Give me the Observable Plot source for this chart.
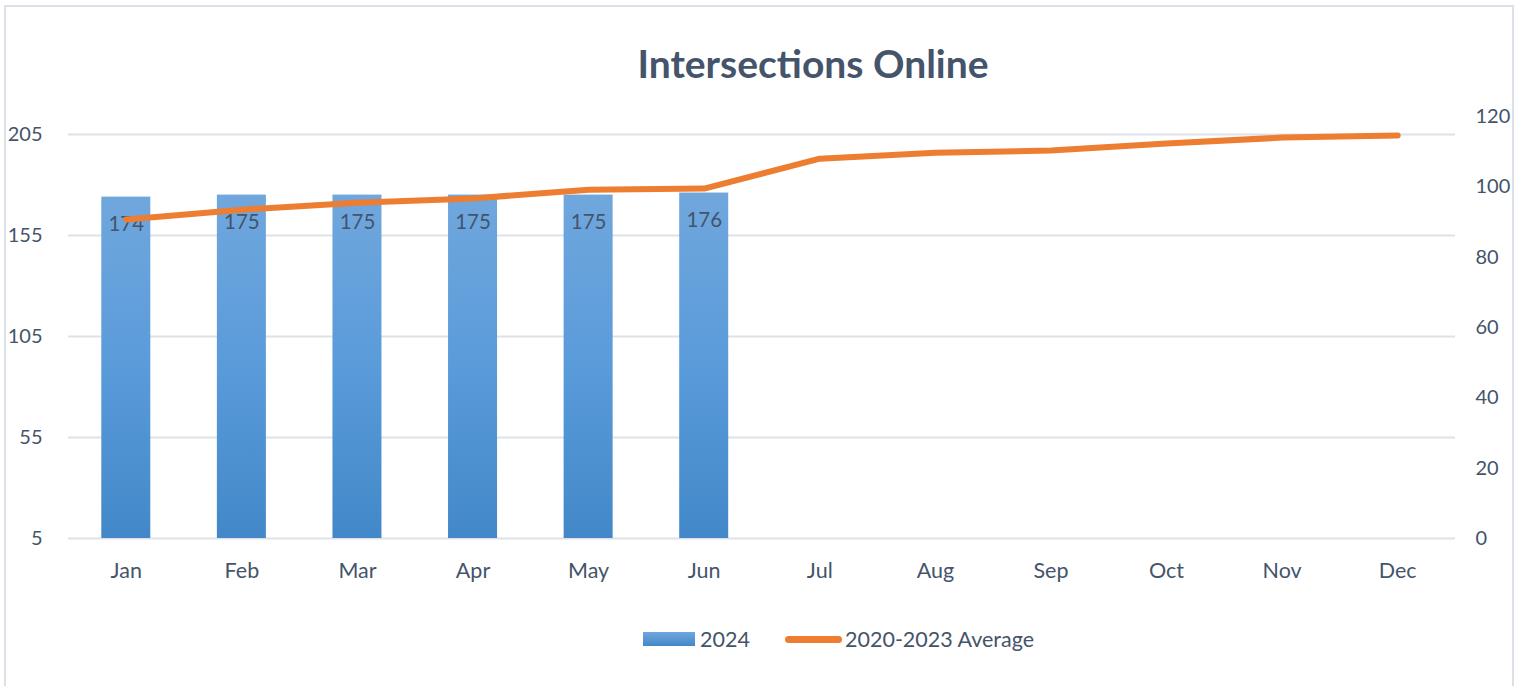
<!DOCTYPE html>
<html>
<head>
<meta charset="utf-8">
<script src="https://cdn.jsdelivr.net/npm/d3@7"></script>
<script src="https://cdn.jsdelivr.net/npm/@observablehq/plot@0.6"></script>
<style>
  html, body { margin: 0; padding: 0; background: #fff; }
  #wrap { position: relative; width: 1528px; height: 686px; overflow: hidden; font-family: Lato, "Open Sans", sans-serif; color: #44546A; }
  #frame { position: absolute; left: 4px; top: 5px; width: 1510px; height: 700px; border: 2px solid #DCE0E8; box-sizing: border-box; }
  #title { position: absolute; left: 98px; width: 1430px; top: 40px; text-align: center; font-size: 39px; font-weight: bold; color: #44546A; }
  #chart { position: absolute; left: 0; top: 100px; }
  #legend { position: absolute; top: 624px; left: 0; width: 1528px; height: 30px; font-size: 21.5px; color: #44546A; }
  .lg { position: absolute; top: 0; display: flex; align-items: center; height: 30px; }
</style>
</head>
<body>
<div id="wrap">
  <div id="frame"></div>
  <div id="title">Intersections Online</div>
  <div id="chart"></div>
  <div id="legend">
    <div class="lg" style="left:643px"><span style="display:inline-block;width:52px;height:14px;background:linear-gradient(#70A7DD,#4288C8);margin-right:5px"></span>2024</div>
    <div class="lg" style="left:785px"><span style="display:inline-block;width:57px;height:7px;border-radius:4px;background:#ED7D31;margin-right:3px"></span>2020-2023 Average</div>
  </div>
</div>
<script>
const months = ["Jan","Feb","Mar","Apr","May","Jun","Jul","Aug","Sep","Oct","Nov","Dec"];
const barMonths = ["Jan","Feb","Mar","Apr","May","Jun"];
const values2024 = [174, 175, 175, 175, 175, 176];
const average2020_2023 = [90.7, 93.5, 95.5, 96.7, 99.2, 99.5, 108.0, 109.7, 110.3, 112.3, 114.0, 114.6];
const leftTicks = [5, 55, 105, 155, 205];
const rightTicks = [0, 20, 40, 60, 80, 100, 120];

const leftMin = 5, leftMax = 213.9, rightMax = 120;
const toLeft = v => leftMin + v * (leftMax - leftMin) / rightMax;

const bars = barMonths.map((m, i) => ({month: m, value: values2024[i]}));
const avg = months.map((m, i) => ({month: m, value: average2020_2023[i]}));

const textColor = "#44546A";
const fsMonth = 21.5, fsNum = 20;

const plot = Plot.plot({
  width: 1528,
  height: 500,
  marginTop: 16,
  marginBottom: 62,
  marginLeft: 68,
  marginRight: 73,
  style: {fontFamily: "Lato, 'Open Sans', sans-serif", fontSize: fsNum + "px", color: textColor, background: "transparent", overflow: "visible"},
  x: {type: "band", domain: months, paddingInner: 0.576, paddingOuter: 0.288, round: false, label: null},
  y: {domain: [leftMin, leftMax], label: null},
  marks: [
    Plot.ruleY(leftTicks, {stroke: "#DDE1E8", strokeWidth: 2}),
    Plot.barY(bars, {x: "month", y1: leftMin, y2: "value", fill: "url(#barGrad)"}),
    Plot.text(bars, {x: "month", y: "value", text: d => String(d.value), dy: 27, fill: textColor, fontSize: 20.5}),
    Plot.line(avg, {x: "month", y: d => toLeft(d.value), stroke: "#ED7D31", strokeWidth: 6, strokeLinecap: "round", strokeLinejoin: "round"}),
    Plot.axisX({tickSize: 0, tickPadding: 24, fontSize: fsMonth, fill: textColor, label: null}),
    Plot.axisY({anchor: "left", ticks: leftTicks, tickSize: 0, tickPadding: 26, fontSize: fsNum, fill: textColor, label: null}),
    Plot.axisY(rightTicks.map(toLeft), {anchor: "right", tickSize: 0, tickPadding: 20, tickFormat: v => String(Math.round((v - leftMin) * rightMax / (leftMax - leftMin))), fontSize: fsNum, fill: textColor, label: null})
  ]
});

const ns = "http://www.w3.org/2000/svg";
const defs = document.createElementNS(ns, "defs");
const grad = document.createElementNS(ns, "linearGradient");
grad.setAttribute("id", "barGrad");
grad.setAttribute("x1", "0"); grad.setAttribute("y1", "0");
grad.setAttribute("x2", "0"); grad.setAttribute("y2", "1");
[["0%", "#70A7DD"], ["50%", "#5A9BDA"], ["100%", "#4288C8"]].forEach(([o, c]) => {
  const s = document.createElementNS(ns, "stop");
  s.setAttribute("offset", o); s.setAttribute("stop-color", c);
  grad.appendChild(s);
});
defs.appendChild(grad);
plot.insertBefore(defs, plot.firstChild);
document.getElementById("chart").appendChild(plot);
</script>
</body>
</html>
